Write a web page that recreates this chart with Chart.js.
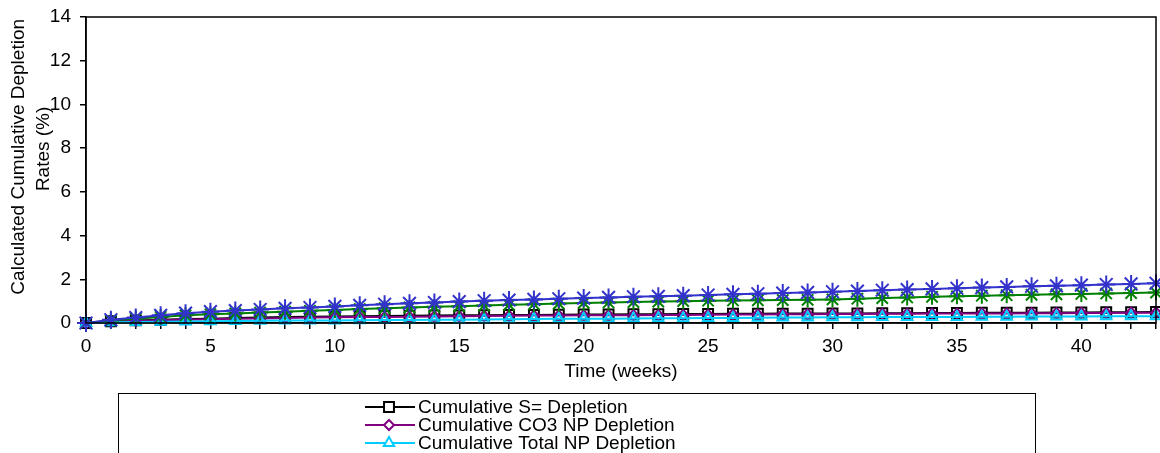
<!DOCTYPE html>
<html>
<head>
<meta charset="utf-8">
<script src="https://cdn.jsdelivr.net/npm/chart.js@4"></script>
<style>
  html, body { margin: 0; padding: 0; background: #fff; }
  #wrap { width: 1160px; height: 453px; }
</style>
</head>
<body>
<div id="wrap"><canvas id="chart" width="1160" height="453"></canvas></div>
<script>
// ==========================================
// DATA
// ==========================================
const weeks = [];
for (let w = 0; w <= 43; w++) weeks.push(w);

const seriesNames = [
  "Cumulative S= Depletion",
  "Cumulative CO3 NP Depletion",
  "Cumulative Total NP Depletion",
  "Cumulative Ca Depletion",
  "Cumulative Mg Depletion",
];

const sDepletion = [
  0, 0.08, 0.12, 0.15, 0.18, 0.2, 0.23, 0.25, 0.27, 0.29,
  0.3, 0.31, 0.32, 0.33, 0.34, 0.35, 0.36, 0.37, 0.37, 0.38,
  0.39, 0.39, 0.4, 0.4, 0.41, 0.41, 0.42, 0.42, 0.43, 0.43,
  0.44, 0.44, 0.45, 0.45, 0.46, 0.46, 0.47, 0.47, 0.47, 0.48,
  0.48, 0.49, 0.49, 0.5,
];
const co3Depletion = [
  0, 0.06, 0.1, 0.13, 0.15, 0.17, 0.19, 0.21, 0.23, 0.25,
  0.26, 0.27, 0.28, 0.29, 0.3, 0.31, 0.32, 0.33, 0.34, 0.34,
  0.35, 0.36, 0.36, 0.37, 0.37, 0.38, 0.39, 0.39, 0.4, 0.4,
  0.41, 0.41, 0.42, 0.42, 0.43, 0.43, 0.44, 0.44, 0.45, 0.45,
  0.46, 0.46, 0.47, 0.47,
];
const totalNpDepletion = [
  0, 0.03, 0.05, 0.06, 0.07, 0.08, 0.09, 0.1, 0.11, 0.12,
  0.12, 0.13, 0.14, 0.14, 0.15, 0.15, 0.16, 0.17, 0.18, 0.19,
  0.2, 0.2, 0.21, 0.22, 0.22, 0.23, 0.23, 0.24, 0.25, 0.25,
  0.26, 0.26, 0.27, 0.27, 0.28, 0.28, 0.29, 0.29, 0.3, 0.3,
  0.3, 0.31, 0.31, 0.31,
];
const caDepletion = [
  0, 0.12, 0.2, 0.28, 0.35, 0.4, 0.44, 0.48, 0.52, 0.56,
  0.6, 0.64, 0.68, 0.71, 0.74, 0.77, 0.8, 0.83, 0.86, 0.89,
  0.92, 0.94, 0.96, 0.98, 1.0, 1.02, 1.03, 1.04, 1.05, 1.06,
  1.08, 1.11, 1.14, 1.17, 1.2, 1.22, 1.25, 1.27, 1.29, 1.31,
  1.33, 1.35, 1.37, 1.39,
];
const mgDepletion = [
  0, 0.15, 0.25, 0.35, 0.45, 0.52, 0.57, 0.62, 0.67, 0.71,
  0.76, 0.81, 0.86, 0.9, 0.94, 0.98, 1.02, 1.05, 1.08, 1.11,
  1.14, 1.17, 1.2, 1.22, 1.25, 1.28, 1.31, 1.34, 1.37, 1.4,
  1.43, 1.46, 1.5, 1.53, 1.56, 1.59, 1.62, 1.65, 1.68, 1.7,
  1.73, 1.76, 1.79, 1.82,
];

const yTicks = [0, 2, 4, 6, 8, 10, 12, 14];
const xLabelStep = 5;

const FONT = '"Liberation Sans", Arial, sans-serif';
const NBSP = "\u00a0";

// ==========================================
// PLUGINS: frame + legend box
// ==========================================
const plotFrame = {
  id: "plotFrame",
  afterDatasetsDraw(chart) {
    const a = chart.chartArea;
    const ctx = chart.ctx;
    ctx.save();
    ctx.strokeStyle = "#000";
    ctx.lineWidth = 1.5;
    ctx.strokeRect(a.left, a.top, a.right - a.left, a.bottom - a.top);
    ctx.restore();
  },
};

const legendBox = {
  id: "legendBox",
  afterDraw(chart) {
    const ctx = chart.ctx;
    ctx.save();
    ctx.strokeStyle = "#000";
    ctx.lineWidth = 1;
    ctx.strokeRect(118.5, 393.5, 917, 100);
    ctx.font = "19px " + FONT;
    ctx.textBaseline = "middle";
    ctx.textAlign = "left";
    chart.data.datasets.forEach((ds, i) => {
      const y = 407 + i * 18;
      ctx.strokeStyle = ds.borderColor;
      ctx.lineWidth = 2;
      ctx.beginPath();
      ctx.moveTo(365, y);
      ctx.lineTo(415, y);
      ctx.stroke();
      if (Chart.helpers && Chart.helpers.drawPoint) {
        ctx.fillStyle = "#fff";
        ctx.lineWidth = 2;
        Chart.helpers.drawPoint(
          ctx,
          { pointStyle: ds.pointStyle, radius: ds.pointRadius, rotation: 0, borderWidth: 2 },
          389,
          y,
        );
      }
      ctx.fillStyle = "#000";
      ctx.fillText(ds.label, 418, y + 1);
    });
    ctx.restore();
  },
};

// ==========================================
// CHART
// ==========================================
function makeSet(label, values, color, style, radius, order) {
  return {
    label: label,
    data: values.map((v, i) => ({ x: weeks[i], y: v })),
    borderColor: color,
    backgroundColor: "transparent",
    borderWidth: 2,
    pointStyle: style,
    pointRadius: radius,
    pointBorderColor: color,
    pointBackgroundColor: "transparent",
    pointBorderWidth: 2,
    tension: 0,
    clip: false,
    order: order,
  };
}

const ctx = document.getElementById("chart");
new Chart(ctx, {
  type: "line",
  data: {
    datasets: [
      makeSet(seriesNames[0], sDepletion, "#000000", "rect", 7, 5),
      makeSet(seriesNames[1], co3Depletion, "#800080", "rectRot", 5, 4),
      makeSet(seriesNames[2], totalNpDepletion, "#00CCFF", "triangle", 6, 3),
      makeSet(seriesNames[3], caDepletion, "#008000", "star", 8, 2),
      makeSet(seriesNames[4], mgDepletion, "#3333CC", "star", 9, 1),
    ],
  },
  options: {
    responsive: false,
    animation: false,
    layout: {
      autoPadding: false,
      padding: { left: 0, top: 17, right: 4, bottom: 70 },
    },
    plugins: {
      legend: { display: false },
      tooltip: { enabled: false },
    },
    scales: {
      x: {
        type: "linear",
        min: 0,
        max: 43,
        afterFit: (s) => {
          s.height = 60;
          s.paddingLeft = 0;
          s.paddingRight = 0;
        },
        border: { display: true, color: "#000", width: 1.5 },
        grid: { drawOnChartArea: false, drawTicks: true, tickLength: 6, color: "#000", lineWidth: 1.5 },
        ticks: {
          stepSize: 1,
          autoSkip: false,
          maxRotation: 0,
          padding: 6,
          color: "#000",
          font: { family: FONT, size: 19 },
          callback: (v) => (v % xLabelStep === 0 ? String(v) : ""),
        },
        title: {
          display: true,
          text: "Time (weeks)",
          color: "#000",
          font: { family: FONT, size: 19 },
          padding: { top: 0, bottom: 0 },
        },
      },
      y: {
        min: yTicks[0],
        max: yTicks[yTicks.length - 1],
        afterFit: (s) => {
          s.width = 86;
          s.paddingTop = 0;
          s.paddingBottom = 0;
        },
        afterBuildTicks: (s) => { s.ticks = yTicks.map((v) => ({ value: v })); },
        border: { display: true, color: "#000", width: 1.5 },
        grid: { drawOnChartArea: false, drawTicks: true, tickLength: 6, color: "#000", lineWidth: 1.5 },
        ticks: {
          padding: 9,
          color: "#000",
          font: { family: FONT, size: 19 },
        },
        title: {
          display: true,
          // leading spaces lift the centred text a little, as in the original
          text: [
            NBSP.repeat(5) + "Calculated Cumulative Depletion",
            NBSP.repeat(8) + "Rates (%)",
          ],
          color: "#000",
          font: { family: FONT, size: 19, lineHeight: 1.32 },
          padding: { top: 6, bottom: 0 },
        },
      },
    },
  },
  plugins: [plotFrame, legendBox],
});
</script>
</body>
</html>
